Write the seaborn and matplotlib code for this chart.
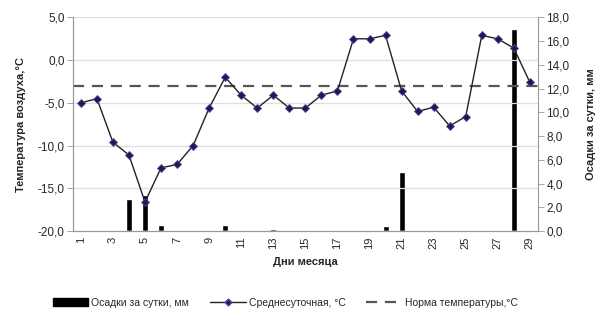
import numpy as np
import pandas as pd
import matplotlib
matplotlib.use('Agg')
import matplotlib.pyplot as plt
from matplotlib.ticker import FuncFormatter, MultipleLocator
from matplotlib.lines import Line2D
from matplotlib.patches import Patch
import seaborn as sns

# --- data ---
days = list(range(1, 30))
temp_mean = [-5.0, -4.5, -9.6, -11.1, -16.6, -12.6, -12.2, -10.0, -5.6, -2.0,
             -4.1, -5.6, -4.1, -5.6, -5.6, -4.1, -3.6, 2.5, 2.5, 2.9,
             -3.6, -6.0, -5.5, -7.7, -6.6, 2.9, 2.5, 1.4, -2.6]
precip = [0.0, 0.0, 0.1, 2.7, 3.0, 0.5, 0.0, 0.0, 0.0, 0.5,
          0.1, 0.0, 0.2, 0.0, 0.0, 0.0, 0.0, 0.0, 0.0, 0.4,
          5.0, 0.0, 0.0, 0.0, 0.0, 0.0, 0.0, 17.0, 0.0]
temp_norm = -3.0

lbl_precip = "Осадки за сутки, мм"
lbl_mean = "Среднесуточная, °С"
lbl_norm = "Норма температуры,°С"

df = pd.DataFrame({"day": days, "temp": temp_mean, "precip": precip})
df["pos"] = np.arange(len(df))

sns.set_style("white")
plt.rcParams['font.family'] = ['Liberation Sans', 'DejaVu Sans']

fig, ax = plt.subplots(figsize=(5.97, 3.17), dpi=100)
fig.subplots_adjust(left=0.122, right=0.901, top=0.945, bottom=0.271)
ax2 = ax.twinx()

# bars on the right axis, drawn underneath the temperature axis
sns.barplot(data=df, x="pos", y="precip", ax=ax2, color="black",
            width=0.38, saturation=1, order=list(df["pos"]))
ax2.set_ylim(0, 18)
ax2.yaxis.set_major_locator(MultipleLocator(2))
ax2.set_ylabel(lbl_precip, fontsize=8, fontweight='bold', labelpad=12)
ax2.set_xlabel("")

# temperature line on the left axis
ax.set_zorder(ax2.get_zorder() + 1)
ax.patch.set_visible(False)
sns.lineplot(data=df, x="pos", y="temp", ax=ax, color="#222222", lw=1,
             marker="D", markersize=4.5, markerfacecolor="#1c1c4c",
             markeredgecolor="#4a4aa8", markeredgewidth=0.6)
ax.axhline(temp_norm, color="#555555", lw=1.6, ls=(0, (5, 3.5)), zorder=1)
ax.set_ylim(-20, 5)
ax.yaxis.set_major_locator(MultipleLocator(5))
ax.set_xlim(-0.5, len(days) - 0.5)
ax.set_ylabel("Температура воздуха,°С", fontsize=8, fontweight='bold', labelpad=8)
ax.set_xlabel("Дни месяца", fontsize=8, fontweight='bold', labelpad=6)
ax2.set_xlim(-0.5, len(days) - 0.5)

fmt = FuncFormatter(lambda v, p: f"{v:.1f}".replace(".", ","))
ax.yaxis.set_major_formatter(fmt)
ax2.yaxis.set_major_formatter(fmt)

ax.grid(axis='y', color="#dedede", lw=0.9)
ax.set_axisbelow(True)

# x ticks: labels every other day, tick marks at category boundaries
ax.set_xticks(df["pos"][::2])
ax.set_xticklabels([str(d) for d in days[::2]], rotation=90)
ax.set_xticks(np.arange(-0.5, len(days), 1), minor=True)
ax.tick_params(axis='x', which='major', length=0, labelsize=8, pad=4)
ax.tick_params(axis='x', which='minor', length=4, color="#999999", width=0.6)
ax.tick_params(axis='y', length=4, color="#999999", width=0.6, labelsize=8.5, pad=2)
ax2.tick_params(axis='y', length=4, color="#999999", width=0.6, labelsize=8.5, pad=2)
ax2.tick_params(axis='x', bottom=False, labelbottom=False)

for a in (ax, ax2):
    a.spines['top'].set_visible(False)
    for s in ('left', 'right', 'bottom'):
        a.spines[s].set_color("#999999")
        a.spines[s].set_linewidth(0.8)
ax.spines['right'].set_visible(False)

handles = [
    Patch(facecolor="black", edgecolor="black"),
    Line2D([], [], color="#222222", lw=1, marker="D", markersize=3.5,
           markerfacecolor="#1c1c4c", markeredgecolor="#4a4aa8"),
    Line2D([], [], color="#555555", lw=1.6, ls=(0, (5, 3.5))),
]
fig.legend(handles, [lbl_precip, lbl_mean, lbl_norm], loc='lower center',
           bbox_to_anchor=(0.478, 0.0), ncol=3, frameon=False, fontsize=7.5,
           handlelength=3.4, handletextpad=0.3, columnspacing=2.0)

fig.savefig("out.png", dpi=100)
